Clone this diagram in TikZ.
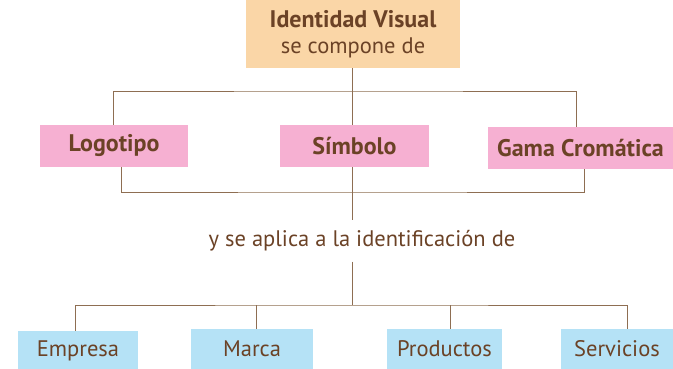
\documentclass[tikz,border=0pt]{standalone}
\usepackage{fontspec}
\setmainfont{PT Sans}
\usetikzlibrary{positioning,calc}
\definecolor{peach}{HTML}{FAD6A7}
\definecolor{rosa}{HTML}{F6B0D2}
\definecolor{celeste}{HTML}{B5E2F6}
\definecolor{cafe}{HTML}{6B4226}
\definecolor{linea}{HTML}{8E6E52}
\begin{document}
\begin{tikzpicture}
        [
    x=1pt, y=-1pt,
    basic/.style={text=cafe, font=\fontsize{22.5}{26}\selectfont, inner sep=0pt},
    caja/.style={basic, fill=rosa, minimum height=42pt, font=\fontsize{24}{26}\selectfont\bfseries},
    hoja/.style={basic, fill=celeste, minimum height=40pt},
    conn/.style={draw=linea, line width=0.8pt}
    ]
    \useasboundingbox (0,0) rectangle (673,368);

    % Nodo principal
    \node [basic, fill=peach, minimum width=214pt, minimum height=68pt, align=center]
        (top) at (353,34) {{\fontsize{24}{26}\selectfont\bfseries Identidad Visual}\\se compone de};
    % Componentes
    \node [caja, minimum width=148pt] (logo) at (114,146) {Logotipo};
    \node [caja, minimum width=149pt] (simb) at (354.5,146) {Símbolo};
    \node [caja, minimum width=185pt] (gama) at (580.5,148) {Gama Cromática};
    \coordinate (jtop) at (352,91);
    \draw [conn] (top.south -| jtop) -- (jtop);
    \draw [conn] ([xshift=-1pt]logo.north) |- (jtop) -| ([xshift=-4.5pt]gama.north);
    \draw [conn] (jtop) -- (jtop |- simb.north);
    % Aplicacion
    \node [basic, inner ysep=10pt] (apply) at (362,241) {y se aplica a la identificación de};
    \coordinate (jbot) at (352,192);
    \draw [conn] ([xshift=7pt]logo.south) |- (jbot) -| ([xshift=3.5pt]gama.south);
    \draw [conn] (simb.south -| jbot) -- (apply.north -| jbot);
    % Ambitos de identificacion
    \node [hoja, minimum width=120pt] (emp) at (78,351) {Empresa};
    \node [hoja, minimum width=122pt] (marca) at (252,349) {Marca};
    \node [hoja, minimum width=115pt] (prod) at (444.5,349) {Productos};
    \node [hoja, minimum width=112pt] (serv) at (617,349) {Servicios};
    \coordinate (jlow) at (352,305);
    \draw [conn] (apply.south -| jlow) -- (jlow);
    \draw [conn] ([xshift=-3pt]emp.north) |- (jlow) -| ([xshift=10pt]serv.north);
    \draw [conn] ([xshift=4pt]marca.north) -- ([xshift=4pt]marca.north |- jlow);
    \draw [conn] ([xshift=5.5pt]prod.north) -- ([xshift=5.5pt]prod.north |- jlow);
\end{tikzpicture}
\end{document}
